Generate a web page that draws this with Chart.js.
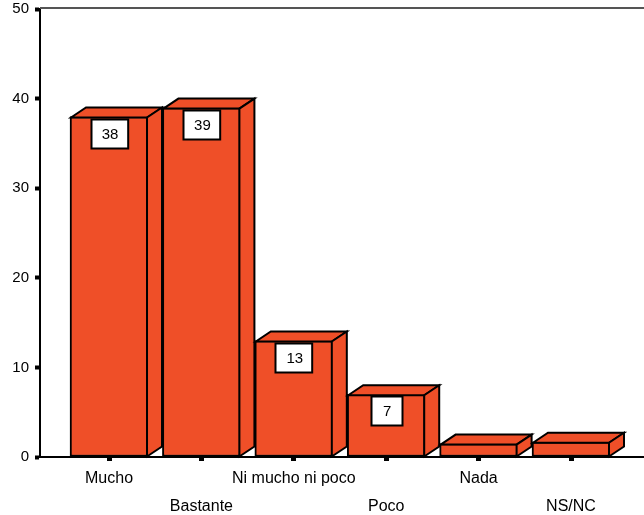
<!DOCTYPE html>
<html>
<head>
<meta charset="utf-8">
<script src="https://cdn.jsdelivr.net/npm/chart.js@4/dist/chart.umd.min.js"></script>
<style>
  html, body { margin: 0; padding: 0; background: #fff; }
  #wrap { width: 644px; height: 515px; position: relative; }
</style>
</head>
<body>
<div id="wrap"><canvas id="c"></canvas></div>
<script>
// Survey answers and their percentages
const categories = ['Mucho', 'Bastante', 'Ni mucho ni poco', 'Poco', 'Nada', 'NS/NC'];
const percentages = [38, 39, 13, 7, 1.5, 1.7];
const labelled = [true, true, true, true, false, false];
const yTicks = [0, 10, 20, 30, 40, 50];

const FILL = '#EF4F28';
const DX = 15, DY = 10;           // depth of the 3D boxes
const FONT = '"Liberation Sans", Arial, sans-serif';

// Draws the top and side faces of each bar plus the value boxes
const boxes3d = {
  id: 'boxes3d',
  afterDatasetsDraw(chart) {
    const ctx = chart.ctx;
    const meta = chart.getDatasetMeta(0);
    ctx.save();
    ctx.lineWidth = 2;
    ctx.strokeStyle = '#000';
    ctx.lineJoin = 'miter';
    meta.data.forEach((bar) => {
      const p = bar.getProps(['x', 'y', 'base', 'width'], true);
      const l = p.x - p.width / 2 + 1, r = p.x + p.width / 2 - 1;
      const t = p.y + 1, b = p.base;
      ctx.fillStyle = FILL;
      ctx.beginPath();
      ctx.moveTo(l, t); ctx.lineTo(l + DX, t - DY); ctx.lineTo(r + DX, t - DY); ctx.lineTo(r, t);
      ctx.closePath(); ctx.fill(); ctx.stroke();
      ctx.beginPath();
      ctx.moveTo(r, t); ctx.lineTo(r + DX, t - DY); ctx.lineTo(r + DX, b - DY); ctx.lineTo(r, b);
      ctx.closePath(); ctx.fill(); ctx.stroke();
    });
    ctx.font = '15px ' + FONT;
    ctx.textAlign = 'center';
    ctx.textBaseline = 'middle';
    meta.data.forEach((bar, i) => {
      if (!labelled[i]) return;
      const p = bar.getProps(['x', 'y'], true);
      const txt = String(percentages[i]);
      const w = Math.max(31, ctx.measureText(txt).width + 20);
      const h = 29;
      const x0 = Math.round(p.x - w / 2) + 0.5, y0 = Math.round(p.y + 2) + 0.5;
      ctx.fillStyle = '#fff';
      ctx.fillRect(x0, y0, w, h);
      ctx.strokeRect(x0, y0, w, h);
      ctx.fillStyle = '#000';
      ctx.fillText(txt, p.x + 1, y0 + h / 2 + 1);
    });
    ctx.restore();
  },
  afterDraw(chart) {
    const { ctx, chartArea } = chart;
    ctx.save();
    ctx.strokeStyle = '#555';
    ctx.lineWidth = 2;
    ctx.beginPath();
    ctx.moveTo(chartArea.left, chartArea.top - 1);
    ctx.lineTo(chartArea.right, chartArea.top - 1);
    ctx.stroke();
    ctx.restore();
  }
};

new Chart(document.getElementById('c'), {
  type: 'bar',
  data: {
    datasets: [{
      data: percentages.map((v, i) => ({ x: i, y: v })),
      backgroundColor: FILL,
      borderColor: '#000',
      borderWidth: 2,
      borderSkipped: false,
      barThickness: 78
    }]
  },
  plugins: [boxes3d],
  options: {
    responsive: true,
    maintainAspectRatio: false,
    animation: false,
    layout: { padding: { top: 9, left: 0, right: 0, bottom: 0 } },
    plugins: { legend: { display: false }, tooltip: { enabled: false } },
    scales: {
      x: {
        type: 'linear',
        offset: false,
        min: -0.747,
        max: 5.79,
        afterBuildTicks: (scale) => { scale.ticks = categories.map((_, i) => ({ value: i })); },
        afterFit: (scale) => {
          scale.height = 58;
          scale.paddingLeft = 0; scale.paddingRight = 0;
        },
        grid: { display: true, offset: false, drawOnChartArea: false, tickLength: 4, tickWidth: 5, tickColor: '#000' },
        border: { display: true, color: '#000', width: 2 },
        ticks: {
          autoSkip: false,
          maxRotation: 0,
          padding: 4,
          color: '#000',
          font: { family: FONT, size: 16, lineHeight: 28 / 16 },
          callback: (v) => (v % 2 === 1 ? ['', categories[v]] : categories[v])
        }
      },
      y: {
        min: 0,
        max: 50,
        afterBuildTicks: (scale) => { scale.ticks = yTicks.map((v) => ({ value: v })); },
        afterFit: (scale) => {
          scale.width = 40;
          scale.paddingTop = 0; scale.paddingBottom = 0;
        },
        grid: { display: true, drawOnChartArea: false, tickLength: 5, tickWidth: 4, tickColor: '#000' },
        border: { display: true, color: '#000', width: 2 },
        ticks: {
          padding: 6,
          color: '#000',
          font: { family: FONT, size: 15, lineHeight: 1.2 }
        }
      }
    }
  }
});
</script>
</body>
</html>
